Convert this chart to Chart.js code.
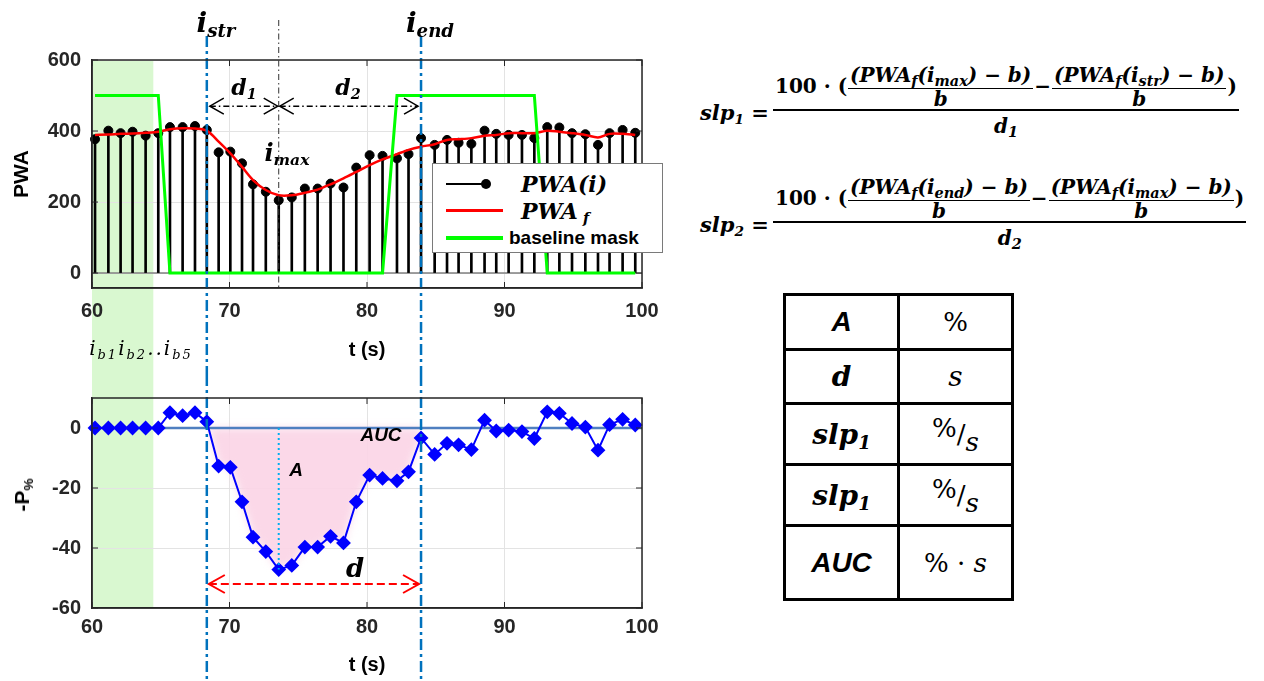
<!DOCTYPE html>
<html>
<head>
<meta charset="utf-8">
<script src="https://cdn.jsdelivr.net/npm/chart.js@4.4.1/dist/chart.umd.min.js"></script>
<style>
  body { margin: 0; background: #fff; width: 1264px; height: 681px; overflow: hidden; position: relative; font-family: 'Liberation Sans', Arial, sans-serif; color: #000; }
  canvas { position: absolute; left: 0; }
  #top { top: 0; }
  #bot { top: 375px; }
  .abs { position: absolute; white-space: nowrap; }
  .c { transform: translate(-50%, -50%); }
  .m { font-family: 'DejaVu Serif', serif; font-weight: bold; font-style: italic; }
  .u { font-family: 'DejaVu Serif', serif; font-weight: bold; font-style: normal; }
  .sa { font-family: 'Liberation Sans', Arial, sans-serif; font-weight: bold; font-style: italic; }
  sub { font-size: 65%; vertical-align: -0.3em; line-height: 0; }
  #legend { position: absolute; left: 432px; top: 163px; width: 229px; height: 88px; background: #fff; border: 1px solid #7a7a7a; }
  #legend .ln { position: absolute; height: 3px; }
  #legend .tx { position: absolute; transform: translateY(-50%); white-space: nowrap; }
  .mf { position: absolute; display: inline-flex; flex-direction: column; font-family: 'DejaVu Serif', serif; font-weight: bold; font-style: italic; font-size: 20px; }
  .mf sub { font-size: 72%; }
  .mn { display: flex; align-items: center; border-bottom: 2px solid #000; padding: 0 2px; white-space: nowrap; }
  .fr { display: inline-flex; flex-direction: column; align-items: center; margin: 0 1px; }
  .fn { line-height: 26px; border-bottom: 1.5px solid #000; padding: 0 2px; }
  .fd { line-height: 20px; }
  .md { text-align: center; line-height: 30px; }
  #tbl { position: absolute; left: 783px; top: 293px; width: 231px; border-collapse: collapse; }
  #tbl td { border: 3px solid #000; text-align: center; padding: 0; width: 50%; }
</style>
</head>
<body>
<canvas id="top" width="680" height="375"></canvas>
<canvas id="bot" width="680" height="306"></canvas>

<div class="abs m c" style="left:216px;top:22px;font-size:28px">i<sub>str</sub></div>
<div class="abs m c" style="left:430px;top:22px;font-size:28px">i<sub>end</sub></div>
<div class="abs m c" style="left:244px;top:87px;font-size:22px">d<sub>1</sub></div>
<div class="abs m c" style="left:348px;top:87px;font-size:22px">d<sub>2</sub></div>
<div class="abs m c" style="left:287px;top:152px;font-size:24px">i<sub>max</sub></div>
<div class="abs c" style="left:141px;top:348px;font-size:20px;font-family:'DejaVu Serif',serif;font-style:italic;letter-spacing:2px">i<sub>b1</sub>i<sub>b2</sub>..i<sub>b5</sub></div>
<div class="abs sa c" style="left:296px;top:470px;font-size:19px">A</div>
<div class="abs sa c" style="left:381px;top:435px;font-size:19px">AUC</div>
<div class="abs m c" style="left:355px;top:568px;font-size:26px">d</div>
<div class="abs c" style="left:22px;top:495px;font-size:21px;font-weight:bold;transform:translate(-50%,-50%) rotate(-90deg)">-P<sub>%</sub></div>

<div id="legend">
  <div class="ln" style="left:13px;top:19px;width:40px;height:2px;background:#000"></div>
  <div class="ln" style="left:48px;top:15px;width:10px;height:10px;border-radius:50%;background:#000"></div>
  <div class="tx m" style="left:88px;top:20px;font-size:22px">PWA(i)</div>
  <div class="ln" style="left:13px;top:45px;width:57px;background:#ff0000"></div>
  <div class="tx m" style="left:88px;top:47px;font-size:22px">PWA<sub>&nbsp;f</sub></div>
  <div class="ln" style="left:13px;top:72px;width:57px;height:4px;background:#00ff00"></div>
  <div class="tx" style="left:76px;top:74px;font-size:19px;font-weight:bold">baseline mask</div>
</div>

<div class="abs m" style="left:700px;top:98px;font-size:21px;line-height:30px">slp<sub>1</sub> =</div>
<div class="mf" style="left:773px;top:62px">
  <div class="mn">
    <span class="u">100 · (</span>
    <span class="fr"><span class="fn">(PWA<sub>f</sub>(i<sub>max</sub>) − b)</span><span class="fd">b</span></span>
    <span class="u">−</span>
    <span class="fr"><span class="fn">(PWA<sub>f</sub>(i<sub>str</sub>) − b)</span><span class="fd">b</span></span>
    <span class="u">)</span>
  </div>
  <div class="md">d<sub>1</sub></div>
</div>

<div class="abs m" style="left:700px;top:210px;font-size:21px;line-height:30px">slp<sub>2</sub> =</div>
<div class="mf" style="left:773px;top:174px">
  <div class="mn">
    <span class="u">100 · (</span>
    <span class="fr"><span class="fn">(PWA<sub>f</sub>(i<sub>end</sub>) − b)</span><span class="fd">b</span></span>
    <span class="u">−</span>
    <span class="fr"><span class="fn">(PWA<sub>f</sub>(i<sub>max</sub>) − b)</span><span class="fd">b</span></span>
    <span class="u">)</span>
  </div>
  <div class="md">d<sub>2</sub></div>
</div>

<table id="tbl">
  <tr style="height:55px"><td class="sa" style="font-size:28px">A</td><td style="font-family:'DejaVu Serif',serif;font-size:26px">%</td></tr>
  <tr style="height:54px"><td class="m" style="font-size:28px">d</td><td style="font-family:'DejaVu Serif',serif;font-style:italic;font-size:28px">s</td></tr>
  <tr style="height:61px"><td class="m" style="font-size:28px">slp<sub>1</sub></td><td style="font-family:'DejaVu Serif',serif;font-size:26px"><span style="position:relative;top:-6px">%</span>/<span style="position:relative;top:8px;font-style:italic">s</span></td></tr>
  <tr style="height:61px"><td class="m" style="font-size:28px">slp<sub>1</sub></td><td style="font-family:'DejaVu Serif',serif;font-size:26px"><span style="position:relative;top:-6px">%</span>/<span style="position:relative;top:8px;font-style:italic">s</span></td></tr>
  <tr style="height:74px"><td class="sa" style="font-size:28px">AUC</td><td style="font-family:'DejaVu Serif',serif;font-size:26px">% · <i>s</i></td></tr>
</table>

<script>
// beat times (s) and per-beat values
const times = [60.22, 61.19, 62.08, 62.95, 63.90, 64.82, 65.67, 66.59, 67.49, 68.35,
  69.21, 70.06, 70.91, 71.71, 72.64, 73.58, 74.53, 75.48, 76.41, 77.35,
  78.29, 79.22, 80.19, 81.13, 82.18, 83.02, 83.93, 84.92, 85.82, 86.66,
  87.59, 88.55, 89.40, 90.30, 91.27, 92.17, 93.11, 93.99, 94.91, 95.88,
  96.80, 97.64, 98.59, 99.51];
const pwa = [377, 401, 394, 398, 387, 394, 411, 411, 414, 403,
  340, 342, 309, 250, 229, 205, 213, 238, 238, 252,
  241, 297, 332, 330, 323, 335, 380, 361, 375, 367,
  364, 401, 392, 389, 389, 380, 411, 410, 394, 391,
  361, 394, 403, 395];
const pwaFilt = [389, 390, 392, 393, 395, 398, 405, 408, 407, 401,
  370, 337, 299, 262, 234, 219, 219, 226, 235, 250,
  267, 285, 304, 320, 335, 347, 356, 363, 375, 377,
  380, 387, 389, 394, 394, 394, 401, 398, 394, 389,
  382, 392, 392, 389];
const mask = [500, 500, 500, 500, 500, 500, 0, 0, 0, 0,
  0, 0, 0, 0, 0, 0, 0, 0, 0, 0,
  0, 0, 0, 0, 500, 500, 500, 500, 500, 500,
  500, 500, 500, 500, 500, 500, 0, 0, 0, 0,
  0, 0, 0, 0];
const negP = [0, 0, 0, 0, 0, 0, 5.1, 4.1, 5.1, 2.1,
  -12.7, -13.1, -24.6, -36.4, -41.2, -47.2, -45.8, -39.7, -39.7, -36.1,
  -38.3, -24.6, -15.7, -16.8, -17.6, -14.6, -3.3, -8.8, -5.1, -5.6,
  -7.2, 2.6, -1.0, -0.7, -1.2, -3.5, 5.4, 4.9, 1.5, 0.3,
  -7.4, 1.1, 2.9, 1.0];

const xTicks = [60, 70, 80, 90, 100];
const yTicksTop = [0, 200, 400, 600];
const yTicksBot = [-60, -40, -20, 0];

const strIdx = 9, maxIdx = 15, endIdx = 26;   // i_str, i_max, i_end
const baseEnd = 64.46;                        // end of baseline window
const arrowTopY = 470, arrowBotY = -52;

const pts = ys => times.map((t, i) => ({ x: t, y: ys[i] }));
const iStr = times[strIdx], iMax = times[maxIdx], iEnd = times[endIdx];

// soft edge for the AUC patch
const blurPlugin = {
  id: 'blur',
  beforeDatasetDraw(chart, args) {
    if (args.meta._dataset.blur) { chart.ctx.save(); chart.ctx.filter = 'blur(4px)'; }
  },
  afterDatasetDraw(chart, args) {
    if (args.meta._dataset.blur) chart.ctx.restore();
  }
};
if (Chart.Filler) { Chart.unregister(Chart.Filler); Chart.register(blurPlugin, Chart.Filler); }
else Chart.register(blurPlugin);

function band(chart, up) {
  const { ctx, chartArea: a, scales: { x } } = chart;
  const x0 = x.getPixelForValue(60), x1 = x.getPixelForValue(baseEnd);
  ctx.save();
  ctx.fillStyle = '#d9f8d0';
  if (up) ctx.fillRect(x0, a.top, x1 - x0, chart.height - a.top);
  else ctx.fillRect(x0, 0, x1 - x0, a.bottom);
  ctx.restore();
}

function eventLines(chart, top) {
  const { ctx, scales: { x } } = chart;
  ctx.save();
  ctx.strokeStyle = '#0072bd';
  ctx.lineWidth = 2.5;
  ctx.setLineDash([11, 4, 3, 4]);
  [iStr, iEnd].forEach(v => {
    const p = x.getPixelForValue(v);
    ctx.beginPath(); ctx.moveTo(p, top); ctx.lineTo(p, chart.height); ctx.stroke();
  });
  ctx.restore();
}

function arrow(ctx, x1, x2, y, len, half) {
  ctx.beginPath(); ctx.moveTo(x1, y); ctx.lineTo(x2, y); ctx.stroke();
  ctx.setLineDash([]);
  ctx.beginPath();
  ctx.moveTo(x1 + len, y - half); ctx.lineTo(x1, y); ctx.lineTo(x1 + len, y + half);
  ctx.moveTo(x2 - len, y - half); ctx.lineTo(x2, y); ctx.lineTo(x2 - len, y + half);
  ctx.stroke();
}

function box(chart) {
  const { ctx, chartArea: a, scales: { x, y } } = chart;
  ctx.save();
  ctx.strokeStyle = '#262626';
  ctx.lineWidth = 1.5;
  ctx.strokeRect(a.left, a.top, a.right - a.left, a.bottom - a.top);
  ctx.lineWidth = 1;
  ctx.beginPath();
  x.ticks.forEach(t => {
    const p = x.getPixelForValue(t.value);
    ctx.moveTo(p, a.bottom); ctx.lineTo(p, a.bottom - 6);
    ctx.moveTo(p, a.top); ctx.lineTo(p, a.top + 6);
  });
  y.ticks.forEach(t => {
    const p = y.getPixelForValue(t.value);
    ctx.moveTo(a.left, p); ctx.lineTo(a.left + 6, p);
    ctx.moveTo(a.right, p); ctx.lineTo(a.right - 6, p);
  });
  ctx.stroke();
  ctx.restore();
}

const topMarks = {
  id: 'topMarks',
  beforeDraw: chart => band(chart, true),
  afterDatasetsDraw(chart) {
    const { ctx, chartArea: a, scales: { x, y } } = chart;
    ctx.save();
    ctx.strokeStyle = '#333';
    ctx.lineWidth = 1;
    ctx.setLineDash([6, 3, 1.5, 3]);
    const pm = x.getPixelForValue(iMax);
    ctx.beginPath(); ctx.moveTo(pm, 20); ctx.lineTo(pm, a.bottom); ctx.stroke();
    ctx.strokeStyle = '#000';
    ctx.lineWidth = 1.5;
    const ay = y.getPixelForValue(arrowTopY);
    ctx.setLineDash([6, 3, 1.5, 3]);
    arrow(ctx, x.getPixelForValue(iStr) + 3, pm - 1, ay, 14, 8);
    ctx.setLineDash([6, 3, 1.5, 3]);
    arrow(ctx, pm + 1, x.getPixelForValue(iEnd) - 3, ay, 14, 8);
    ctx.restore();
    eventLines(chart, 36);
  },
  afterDraw: box
};

const botMarks = {
  id: 'botMarks',
  beforeDraw: chart => band(chart, false),
  afterDatasetsDraw(chart) {
    const { ctx, scales: { x, y } } = chart;
    ctx.save();
    const pm = x.getPixelForValue(iMax);
    ctx.strokeStyle = '#00b0f0';
    ctx.lineWidth = 2;
    ctx.setLineDash([2, 3]);
    ctx.beginPath(); ctx.moveTo(pm, y.getPixelForValue(0)); ctx.lineTo(pm, y.getPixelForValue(negP[maxIdx])); ctx.stroke();
    ctx.strokeStyle = '#ff0000';
    ctx.lineWidth = 2;
    ctx.setLineDash([8, 4]);
    arrow(ctx, x.getPixelForValue(iStr) + 2, x.getPixelForValue(iEnd) - 2, y.getPixelForValue(arrowBotY), 16, 9);
    ctx.restore();
    eventLines(chart, 0);
  },
  afterDraw: box
};

const tickFont = { family: 'Liberation Sans', weight: 'bold', size: 20 };
const titleFont = { family: 'Liberation Sans', weight: 'bold', size: 20 };

function xAxis(height, tickPad, titlePad) {
  return {
    type: 'linear', min: 60, max: 100, offset: false,
    afterBuildTicks: s => { s.ticks = xTicks.map(v => ({ value: v })); },
    afterFit: s => { s.height = height; },
    ticks: { font: tickFont, color: '#262626', padding: tickPad, autoSkip: false, maxRotation: 0 },
    grid: { color: '#e3e3e3', drawTicks: false, offset: false },
    border: { color: '#262626', width: 1.5 },
    title: { display: true, text: 't (s)', font: titleFont, color: '#000', padding: { top: 0, bottom: titlePad } }
  };
}

new Chart(document.getElementById('top'), {
  type: 'line',
  data: {
    datasets: [
      { data: pts(mask), borderColor: '#00ff00', borderWidth: 3, pointRadius: 0 },
      { data: pts(pwaFilt), borderColor: '#ff0000', borderWidth: 2.5, pointRadius: 0, tension: 0.3 },
      { data: pts(pwa), showLine: false, pointRadius: 4.5, pointBackgroundColor: '#000', pointBorderColor: '#000', clip: 8 },
      { type: 'bar', data: pts(pwa), backgroundColor: '#000', barThickness: 2 },
      { data: [{ x: 60, y: 0 }, { x: 100, y: 0 }], borderColor: '#808080', borderWidth: 1.5, pointRadius: 0 }
    ]
  },
  options: {
    responsive: false,
    animation: false,
    layout: { padding: { left: 0, top: 60, right: 38, bottom: 0 } },
    plugins: { legend: { display: false }, tooltip: { enabled: false } },
    scales: {
      x: xAxis(87, 11, 13),
      y: {
        type: 'linear', min: -42, max: 600,
        afterBuildTicks: s => { s.ticks = yTicksTop.map(v => ({ value: v })); },
        afterFit: s => { s.width = 92; },
        ticks: { font: tickFont, color: '#262626', padding: 11 },
        grid: { color: '#e3e3e3', drawTicks: false },
        border: { color: '#262626', width: 1.5 },
        title: { display: true, text: 'PWA', font: { family: 'Liberation Sans', weight: 'bold', size: 21 }, color: '#000', padding: { top: 10, bottom: 0 } }
      }
    }
  },
  plugins: [topMarks]
});

new Chart(document.getElementById('bot'), {
  type: 'line',
  data: {
    datasets: [
      { data: pts(negP), borderColor: '#0000ff', borderWidth: 2, pointStyle: 'rectRot', pointRadius: 6, pointBackgroundColor: '#0000ff', pointBorderColor: '#0000ff', clip: 8 },
      { data: [{ x: 60, y: 0 }, { x: 100, y: 0 }], borderColor: '#4f7fc0', borderWidth: 2.5, pointRadius: 0 },
      { data: pts(negP).slice(strIdx, endIdx + 1), blur: true, fill: 'origin', backgroundColor: 'rgba(251,212,230,0.9)', borderWidth: 0, pointRadius: 0 }
    ]
  },
  options: {
    responsive: false,
    animation: false,
    layout: { padding: { left: 0, top: 5, right: 38, bottom: 0 } },
    plugins: { legend: { display: false }, tooltip: { enabled: false } },
    scales: {
      x: xAxis(73, 7, 4),
      y: {
        type: 'linear', min: -60, max: 10,
        afterBuildTicks: s => { s.ticks = yTicksBot.map(v => ({ value: v })); },
        afterFit: s => { s.width = 92; },
        ticks: { font: tickFont, color: '#262626', padding: 11 },
        grid: { color: '#e3e3e3', drawTicks: false },
        border: { color: '#262626', width: 1.5 }
      }
    }
  },
  plugins: [botMarks]
});
</script>
</body>
</html>
